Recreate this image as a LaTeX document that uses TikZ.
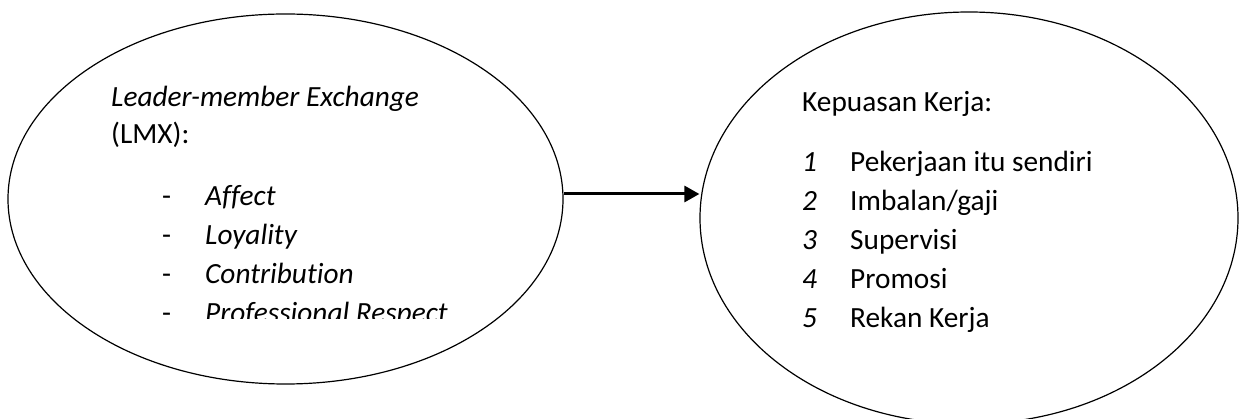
\documentclass[tikz,border=0pt]{standalone}
\usepackage{fontspec}
\setmainfont{Carlito}[Ligatures=NoCommon]
\usetikzlibrary{shapes.geometric,arrows.meta}
\tikzset{
  oval/.style={ellipse,draw,line width=1.2pt,inner sep=0pt},
  txt/.style={anchor=base west,inner sep=0pt,font=\fontsize{29.3}{35}\selectfont},
  link/.style={line width=3pt,-{Triangle[length=15pt,width=16pt]}}
}
\begin{document}
\begin{tikzpicture}[x=1pt,y=1pt]
\useasboundingbox (0,0) rectangle (1240,-419);
% the two constructs
\node[oval,minimum width=555pt,minimum height=370pt] (lmx) at (285.5,-199) {};
\node[oval,minimum width=538pt,minimum height=412pt] (kk) at (969,-218) {};
% independent variable: LMX dimensions (last line is cut by its text box)
\begin{scope}
\clip (95,-60) rectangle (480,-319);
\node[txt] (lmxh1) at (111,-107) {\itshape Leader-member Exchange};
\node[txt] (lmxh2) at (111,-144) {(LMX):};
\node[txt] (d1) at (162,-206) {-};
\node[txt] (a1) at (205,-206) {\itshape Affect};
\node[txt] (d2) at (162,-245) {-};
\node[txt] (a2) at (205,-245) {\itshape Loyality};
\node[txt] (d3) at (162,-284) {-};
\node[txt] (a3) at (205,-284) {\itshape Contribution};
\node[txt] (d4) at (162,-323) {-};
\node[txt] (a4) at (205,-323) {\itshape Professional Respect};
\end{scope}
% dependent variable: job satisfaction facets
\node[txt] (kkh) at (802,-111.5) {Kepuasan Kerja:};
\node[txt] (n1) at (802,-172) {\itshape 1};
\node[txt] (b1) at (850,-172) {Pekerjaan itu sendiri};
\node[txt] (n2) at (802,-211) {\itshape 2};
\node[txt] (b2) at (850,-211) {Imbalan/gaji};
\node[txt] (n3) at (802,-250) {\itshape 3};
\node[txt] (b3) at (850,-250) {Supervisi};
\node[txt] (n4) at (802,-289) {\itshape 4};
\node[txt] (b4) at (850,-289) {Promosi};
\node[txt] (n5) at (802,-328) {\itshape 5};
\node[txt] (b5) at (850,-328) {Rekan Kerja};
% influence arrow
\coordinate (ay) at (0,-194);
\draw[link] (lmx.east |- ay) -- (kk.west |- ay);
\end{tikzpicture}
\end{document}
